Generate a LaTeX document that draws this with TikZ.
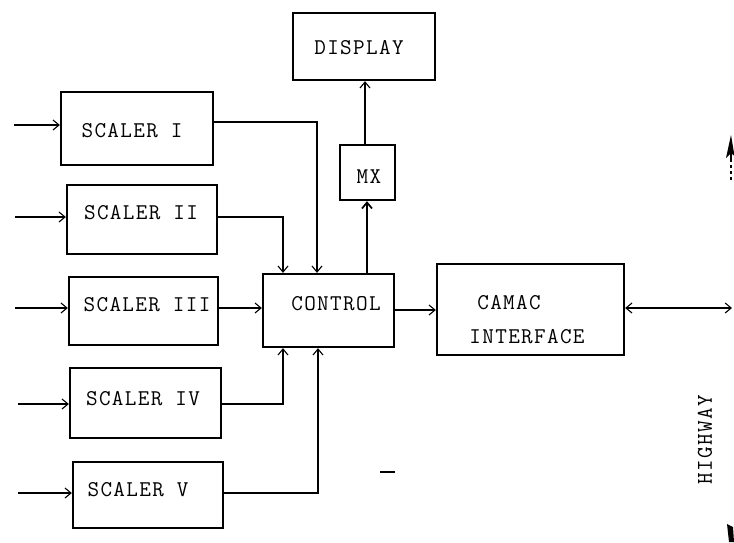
\documentclass[tikz,border=0pt]{standalone}
\usepackage{fontspec}
\setmonofont[LetterSpace=6]{Latin Modern Mono}
\usetikzlibrary{arrows.meta}
\begin{document}
\begin{tikzpicture}[x=1pt,y=-1pt,
  box/.style={draw, line width=2.3pt, inner sep=0pt},
  lbl/.style={font=\ttfamily\fontsize{22.5}{22.5}\selectfont, inner sep=0pt},
  conn/.style={line width=1.1pt, -{Straight Barb[length=6pt,width=10pt]}},
  biconn/.style={line width=1.1pt, {Straight Barb[length=6pt,width=10pt]}-{Straight Barb[length=6pt,width=10pt]}}]
\useasboundingbox (0,0) rectangle (734,542);
% boxes
\node[box, minimum width=152pt, minimum height=73pt] (s1) at (137,128.5) {};
\node[box, minimum width=150pt, minimum height=69pt] (s2) at (142,219.5) {};
\node[box, minimum width=149pt, minimum height=68pt] (s3) at (143.5,311) {};
\node[box, minimum width=151pt, minimum height=70pt] (s4) at (145.5,403) {};
\node[box, minimum width=150pt, minimum height=66pt] (s5) at (148,495) {};
\node[box, minimum width=131pt, minimum height=73pt] (c) at (328.5,310.5) {};
\node[box, minimum width=142pt, minimum height=67pt] (d) at (364,46.5) {};
\node[box, minimum width=55pt, minimum height=55pt] (mx) at (367.5,172.5) {};
\node[box, minimum width=187pt, minimum height=91pt] (cam) at (530.5,309.5) {};
% labels
\node[lbl] (t1) at (132,131) {SCALER I};
\node[lbl] (t2) at (141,213) {SCALER II};
\node[lbl] (t3) at (147,305) {SCALER III};
\node[lbl] (t4) at (143,399) {SCALER IV};
\node[lbl] (t5) at (138,490) {SCALER V};
\node[lbl] (tc) at (336,304) {CONTROL};
\node[lbl] (td) at (359,48) {DISPLAY};
\node[lbl] (tm) at (369,177) {MX};
\node[lbl] (tca) at (509,303) {CAMAC};
\node[lbl] (tin) at (527,337) {INTERFACE};
\node[lbl, rotate=90] (hwy) at (705,440) {HIGHWAY};
% inputs
\coordinate (i1) at (14,125);
\coordinate (i2) at (15,217);
\coordinate (i3) at (15,308);
\coordinate (i4) at (18,404);
\coordinate (i5) at (18,493);
\draw[conn] (i1) -- (i1 -| s1.west);
\draw[conn] (i2) -- (i2 -| s2.west);
\draw[conn] (i3) -- (i3 -| s3.west);
\draw[conn] (i4) -- (i4 -| s4.west);
\draw[conn] (i5) -- (i5 -| s5.west);
% scalers to control
\draw[conn] (s1.east |- 0,122) -| (c.north -| 317,0);
\draw[conn] (s2.east |- 0,217) -| (c.north -| 283,0);
\draw[conn] (s3.east |- 0,308) -- (c.west |- 0,308);
\draw[conn] (s4.east |- 0,404) -| (c.south -| 283,0);
\draw[conn] (s5.east |- 0,493) -| (c.south -| 318,0);
% control chain
\draw[conn, line width=1.7pt] (c.north -| 367,0) -- (mx.south -| 367,0);
\draw[conn] (mx.north -| 365,0) -- (d.south -| 365,0);
\draw[conn] (c.east |- 0,310) -- (cam.west |- 0,310);
\coordinate (hw) at (732,308);
\draw[biconn] (cam.east |- 0,308) -- (hw);
% highway marks (partial)
\coordinate (hb) at (731,180);
\coordinate (ht) at (731,152);
\draw[dashed, line width=1.2pt] (hb) -- (ht);
\fill (731,135) -- (734.5,156) -- (731,153) -- (726,158) -- cycle;
\draw[line width=2.5pt] (731,150) -- (731,160);
\fill (727,524) -- (733,527) -- (734,542) -- (729,542) -- cycle;
\draw[line width=2pt] (380,472) -- (395,472);
\end{tikzpicture}
\end{document}
